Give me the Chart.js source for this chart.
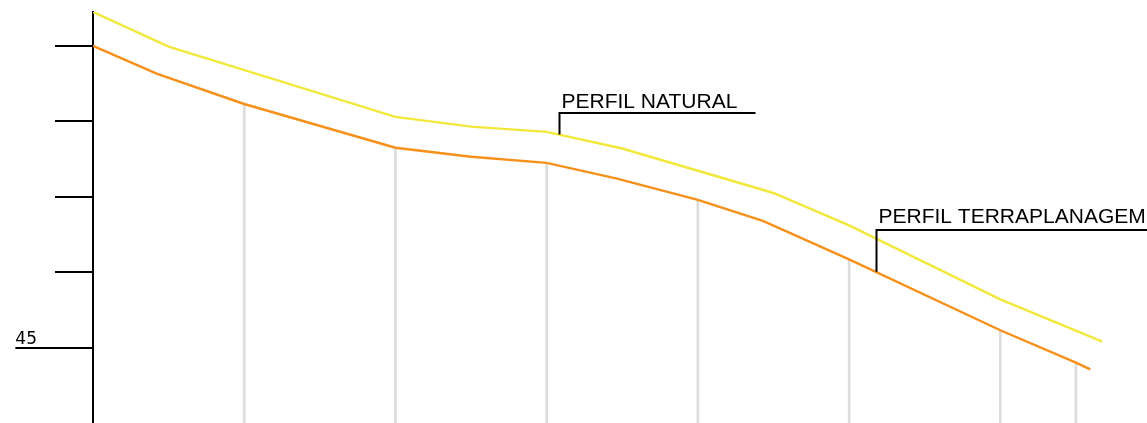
<!DOCTYPE html>
<html>
<head>
<meta charset="utf-8">
<script src="https://cdn.jsdelivr.net/npm/chart.js@4.4.0/dist/chart.umd.min.js"></script>
<style>
  html, body { margin: 0; padding: 0; background: #fff; overflow: hidden; }
  canvas { display: block; }
</style>
</head>
<body>
<canvas id="perfil" width="1147" height="423"></canvas>
<script>
(function () {
  "use strict";

  // distances (m) and levels (m)
  const naturalX = [0, 10, 40, 50, 60, 70, 90, 100, 120, 133.5];
  const naturalY = [49.45, 48.99, 48.06, 47.93, 47.86, 47.64, 47.05, 46.62, 45.64, 45.08];

  const terraX = [0, 8.5, 20, 40, 50, 60, 69.3, 80, 88.6, 100, 120, 130, 131.9];
  const terraY = [49.00, 48.63, 48.23, 47.65, 47.53, 47.45, 47.24, 46.96, 46.68, 46.17, 45.23, 44.80, 44.71];

  // stakes drawn from the graded profile down to the bottom
  const stations = [20, 40, 60, 80, 100, 120, 130];

  const yTicks = [45, 46, 47, 48, 49];
  const yTickLabels = ["45", "", "", "", ""];

  const yMin = 44.0, yMax = 49.45;
  const xMin = 0, xMax = 139.4;

  const toPoints = (xs, ys) => xs.map((x, i) => ({ x, y: ys[i] }));

  function valueAt(points, x) {
    for (let i = 1; i < points.length; i++) {
      const a = points[i - 1], b = points[i];
      if (x >= a.x && x <= b.x) return a.y + (b.y - a.y) * (x - a.x) / (b.x - a.x);
    }
    return points[points.length - 1].y;
  }

  const stakeBars = stations.map(s => ({ x: s, y: [yMin, terraY[terraX.indexOf(s)]] }));

  const leaders = {
    id: "leaders",
    afterDatasetsDraw(chart, args, opts) {
      const { ctx, scales: { x, y } } = chart;
      ctx.save();
      ctx.strokeStyle = "#000";
      ctx.fillStyle = "#000";
      ctx.lineWidth = 2;

      // underline of the level label
      ctx.font = "17px 'DejaVu Sans'";
      const ly = Math.round(y.getPixelForValue(yTicks[0]));
      const tickOpts = y.options;
      const lw = ctx.measureText(yTickLabels[0]).width;
      const lx = y.right - tickOpts.grid.tickLength - tickOpts.ticks.padding - lw;
      ctx.beginPath();
      ctx.moveTo(lx, ly);
      ctx.lineTo(y.right, ly);
      ctx.stroke();

      ctx.font = opts.font;
      ctx.textBaseline = "alphabetic";
      opts.items.forEach(it => {
        const pts = chart.data.datasets[it.dataset].data;
        const px = Math.round(x.getPixelForValue(it.at)) + 0.5;
        const py = y.getPixelForValue(valueAt(pts, it.at));
        const top = Math.round(py - it.rise);
        ctx.beginPath();
        ctx.moveTo(px, py);
        ctx.lineTo(px, top);
        ctx.lineTo(px + it.reach, top);
        ctx.stroke();
        ctx.fillText(it.text, px + 2, top - it.gap);
      });
      ctx.restore();
    }
  };

  new Chart(document.getElementById("perfil"), {
    type: "line",
    data: {
      datasets: [
        {
          label: "PERFIL NATURAL",
          data: toPoints(naturalX, naturalY),
          borderColor: "#f2e83c",
          borderWidth: 2.4,
          pointRadius: 0,
          tension: 0,
          order: 2
        },
        {
          label: "PERFIL TERRAPLANAGEM",
          data: toPoints(terraX, terraY),
          borderColor: "#f7901a",
          borderWidth: 2.4,
          pointRadius: 0,
          tension: 0,
          order: 1
        },
        {
          type: "bar",
          label: "estacas",
          data: stakeBars,
          backgroundColor: "#dcdcdc",
          barThickness: 2,
          borderWidth: 0,
          order: 3
        }
      ]
    },
    options: {
      responsive: false,
      animation: false,
      layout: { padding: { top: 12, left: 0, right: 0, bottom: 0 } },
      plugins: {
        legend: { display: false },
        tooltip: { enabled: false },
        leaders: {
          font: "21px 'Liberation Sans', Arial, sans-serif",
          items: [
            { text: "PERFIL NATURAL", dataset: 0, at: 61.6, rise: 22, reach: 196, gap: 5 },
            { text: "PERFIL TERRAPLANAGEM", dataset: 1, at: 103.5, rise: 42, reach: 275, gap: 7 }
          ]
        }
      },
      scales: {
        x: {
          type: "linear",
          display: false,
          min: xMin,
          max: xMax,
          offset: false
        },
        y: {
          type: "linear",
          min: yMin,
          max: yMax,
          afterBuildTicks: s => { s.ticks = yTicks.map(v => ({ value: v })); },
          afterFit: s => { s.width = 93; s.paddingTop = 0; s.paddingBottom = 0; },
          grid: {
            drawOnChartArea: false,
            drawTicks: true,
            tickLength: 38,
            color: "#000",
            lineWidth: 2
          },
          border: { display: true, color: "#000", width: 2 },
          ticks: {
            autoSkip: false,
            padding: 18,
            labelOffset: -8,
            color: "#000",
            font: { family: "DejaVu Sans", size: 17 },
            callback: (v, i) => yTickLabels[i]
          }
        }
      }
    },
    plugins: [leaders]
  });
})();
</script>
</body>
</html>
